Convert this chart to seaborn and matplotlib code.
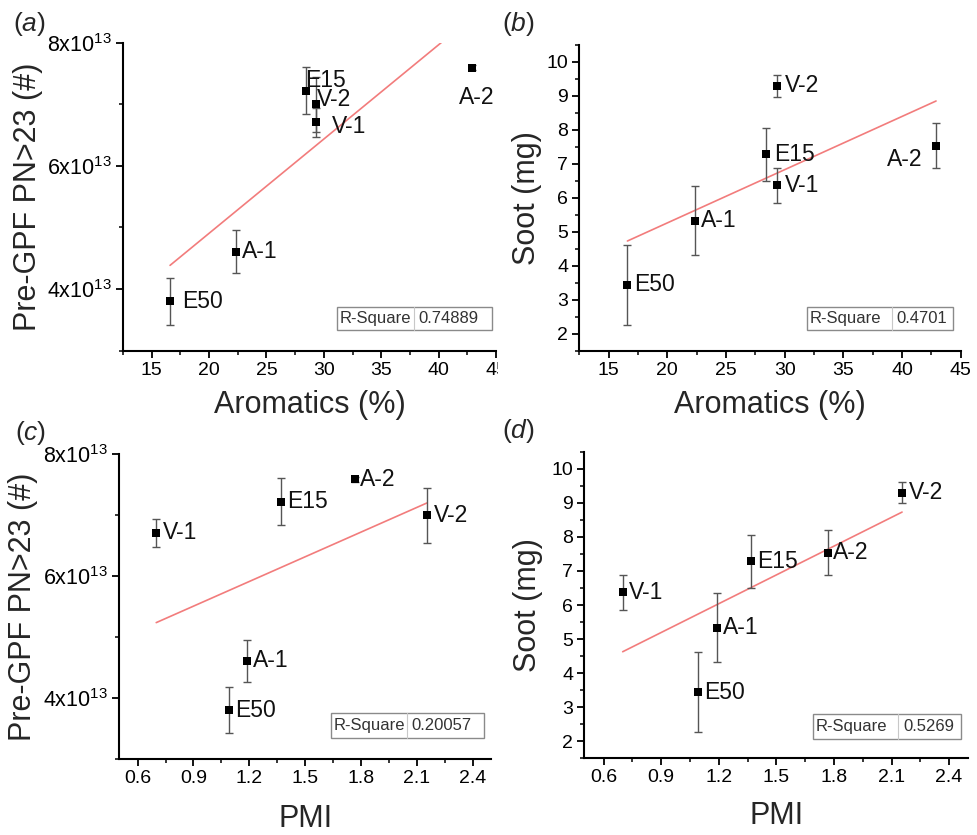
import numpy as np
import pandas as pd
import matplotlib
matplotlib.use('Agg')
import matplotlib.pyplot as plt
import seaborn as sns
from matplotlib.ticker import MultipleLocator, FixedLocator
from matplotlib.patches import Rectangle

# ---------------- data ----------------
fuels = ['E50', 'A-1', 'E15', 'V-2', 'V-1', 'A-2']
aromatics = [16.6, 22.35, 28.43, 29.35, 29.35, 42.9]      # %
pmi = [1.09, 1.19, 1.37, 2.155, 0.70, 1.77]
pn_e13 = [3.80, 4.61, 7.22, 7.00, 6.71, 7.59]              # x1e13 #
pn_err_e13 = [0.38, 0.35, 0.385, 0.45, 0.235, 0.04]
soot = [3.44, 5.33, 7.28, 9.30, 6.37, 7.53]                # mg
soot_err = [1.17, 1.01, 0.77, 0.32, 0.52, 0.66]
r_square = ['0.74889', '0.4701', '0.20057', '0.5269']
pn_ticks = [4e13, 6e13, 8e13]
pn_tick_labels = ['4x10$^{13}$', '6x10$^{13}$', '8x10$^{13}$']

pn = np.array(pn_e13) * 1e13
pn_err = np.array(pn_err_e13) * 1e13

# ---------------- style ----------------
sns.set_theme(style='ticks')
plt.rcParams['font.family'] = ['Liberation Sans', 'DejaVu Sans']
plt.rcParams['mathtext.fontset'] = 'custom'
plt.rcParams['mathtext.rm'] = 'Liberation Sans'
plt.rcParams['mathtext.it'] = 'Liberation Sans:italic'
plt.rcParams['mathtext.default'] = 'regular'

W, H = 977, 835
fig = plt.figure(figsize=(W / 100, H / 100), dpi=100)

def px_axes(l, r, t, b):
    return [l / W, 1 - b / H, (r - l) / W, (b - t) / H]

ax_a = fig.add_axes(px_axes(123, 496, 42.7, 350.7))
ax_b = fig.add_axes(px_axes(579.3, 960.7, 45, 350.7))
ax_c = fig.add_axes(px_axes(119, 491.3, 454.3, 759))
ax_d = fig.add_axes(px_axes(584.3, 968.3, 451.7, 758.3))
ax_a.set_zorder(1)
ax_b.set_zorder(3)

LINE_C = '#f27c7c'
ERR_C = '#555555'

def draw(ax, x, y, yerr, offsets, rsq, box, xlabel, ylabel):
    df = pd.DataFrame({'x': x, 'y': y, 'fuel': fuels})
    sns.regplot(data=df, x='x', y='y', ax=ax, scatter=False, ci=None,
                truncate=True, line_kws=dict(color=LINE_C, lw=1.2))
    ax.errorbar(df['x'], df['y'], yerr=yerr, fmt='none', ecolor=ERR_C,
                elinewidth=1.0, capsize=3, capthick=1.0, zorder=3)
    sns.scatterplot(data=df, x='x', y='y', ax=ax, marker='s', color='black',
                    s=36, linewidth=0, zorder=4, legend=False)
    for xi, yi, name in zip(df['x'], df['y'], df['fuel']):
        dx, dy, ha = offsets.get(name, (6, 0, 'left'))
        ax.annotate(name, (xi, yi), xytext=(dx, dy), textcoords='offset pixels',
                    ha=ha, va='center', fontsize=16.5, color='#111111', zorder=5)
    # R-square box
    x0, x1, xd, y0, y1 = box
    ax.add_patch(Rectangle((x0, y0), x1 - x0, y1 - y0, transform=ax.transAxes,
                           fill=False, ec='#8a8a8a', lw=1.0, zorder=6, clip_on=False))
    ax.plot([xd, xd], [y0, y1], transform=ax.transAxes, color='#c8c8c8',
            lw=0.8, zorder=6, clip_on=False)
    ax.text(x0 + 0.008, (y0 + y1) / 2, 'R-Square', transform=ax.transAxes,
            ha='left', va='center', fontsize=12, color='#333333', zorder=7)
    ax.text(xd + 0.012, (y0 + y1) / 2, rsq, transform=ax.transAxes,
            ha='left', va='center', fontsize=12, color='#333333', zorder=7)
    ax.set_xlabel(xlabel, fontsize=22)
    ax.set_ylabel(ylabel, fontsize=22)
    sns.despine(ax=ax)
    for s in ['left', 'bottom']:
        ax.spines[s].set_linewidth(1.5)
        ax.spines[s].set_color('black')
    ax.tick_params(which='major', direction='out', length=5, width=1.3,
                   labelsize=14, colors='black', pad=3)
    ax.tick_params(which='minor', direction='out', length=3, width=1.1, colors='black')
    ax.yaxis.label.set_va('center')
    ax.xaxis.label.set_va('center')

off_a = {'E50': (12, 0, 'left'), 'A-1': (6, 0, 'left'), 'E15': (-1, 10, 'left'),
         'V-2': (1, 5, 'left'), 'V-1': (16, -4, 'left'), 'A-2': (-13, -30, 'left')}
off_b = {'E50': (7, 0, 'left'), 'E15': (8, 0, 'left'), 'V-2': (8, 0, 'left'),
         'V-1': (8, 0, 'left'), 'A-2': (-14, -14, 'right')}
off_c = {'V-1': (7, 0, 'left'), 'A-2': (5, 0, 'left'), 'V-2': (7, 0, 'left')}
off_d = {'E50': (7, 0, 'left'), 'A-2': (5, 0, 'left'), 'V-2': (7, 0, 'left')}

draw(ax_a, aromatics, pn, pn_err, off_a, r_square[0],
     (0.573, 0.988, 0.781, 0.067, 0.143), 'Aromatics (%)', 'Pre-GPF PN>23 (#)')
draw(ax_b, aromatics, soot, soot_err, off_b, r_square[1],
     (0.596, 0.981, 0.819, 0.068, 0.144), 'Aromatics (%)', 'Soot (mg)')
draw(ax_c, pmi, pn, pn_err, off_c, r_square[2],
     (0.569, 0.980, 0.774, 0.068, 0.150), 'PMI', 'Pre-GPF PN>23 (#)')
draw(ax_d, pmi, soot, soot_err, off_d, r_square[3],
     (0.595, 0.980, 0.818, 0.063, 0.1435), 'PMI', 'Soot (mg)')

for ax in (ax_a, ax_b):
    ax.set_xlim(12.5, 45)
    ax.xaxis.set_major_locator(MultipleLocator(5))
    ax.xaxis.set_minor_locator(MultipleLocator(2.5))
for ax in (ax_c, ax_d):
    ax.set_xlim(0.5, 2.5)
    ax.xaxis.set_major_locator(FixedLocator([0.6, 0.9, 1.2, 1.5, 1.8, 2.1, 2.4]))
    ax.xaxis.set_minor_locator(FixedLocator([0.75, 1.05, 1.35, 1.65, 1.95, 2.25]))
    ax.set_xticklabels(['0.6', '0.9', '1.2', '1.5', '1.8', '2.1', '2.4'])
for ax in (ax_a, ax_c):
    ax.set_ylim(3e13, 8e13)
    ax.yaxis.set_major_locator(FixedLocator(pn_ticks))
    ax.set_yticklabels(pn_tick_labels, fontsize=15.5)
    ax.yaxis.set_minor_locator(FixedLocator([3e13, 5e13, 7e13]))
for ax in (ax_b, ax_d):
    ax.set_ylim(1.5, 10.5)
    ax.yaxis.set_major_locator(MultipleLocator(1))
    ax.yaxis.set_minor_locator(MultipleLocator(0.5))

ax_a.yaxis.set_label_coords(-0.255, 0.5)
ax_b.yaxis.set_label_coords(-0.138, 0.5)
ax_c.yaxis.set_label_coords(-0.257, 0.5)
ax_d.yaxis.set_label_coords(-0.146, 0.5)
ax_a.xaxis.set_label_coords(0.5, -0.176)
ax_b.xaxis.set_label_coords(0.5, -0.178)
ax_c.xaxis.set_label_coords(0.5, -0.198)
ax_d.xaxis.set_label_coords(0.5, -0.188)

# white mask clipping the right edge of panel (a)
fig.add_artist(Rectangle((498 / W, 0.5), 1, 0.5, transform=fig.transFigure,
                         color='white', zorder=2))

for lab, xp, yp in [('a', 13, 24), ('b', 502, 24), ('c', 15, 433), ('d', 502, 431)]:
    fig.text(xp / W, 1 - yp / H, '($\\mathit{%s}$)' % lab, fontsize=19,
             ha='left', va='center', zorder=5)

fig.savefig('out.png', dpi=100)
